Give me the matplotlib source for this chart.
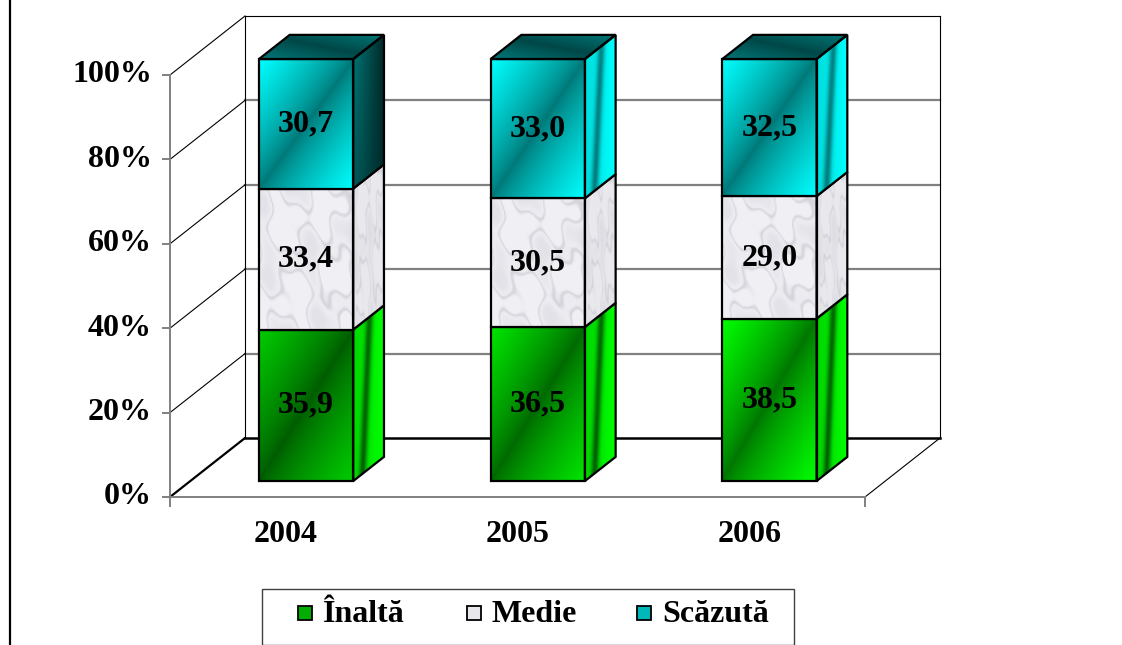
import numpy as np
import matplotlib.pyplot as plt
from matplotlib.patches import Polygon, Rectangle
from matplotlib.lines import Line2D

years = ["2004", "2005", "2006"]
series = ["Înaltă", "Medie", "Scăzută"]
inalta = [35.9, 36.5, 38.5]
medie = [33.4, 30.5, 29.0]
scazuta = [30.7, 33.0, 32.5]
yticks = [0, 20, 40, 60, 80, 100]

W, H = 1122, 645
SX = 695 / 3          # pixels per category
SY = 4.22             # pixels per percent
DX = 75 / SX          # depth offset of the back wall (data units)
DY = 59 / SY
D0, D1 = 0.27, 0.68   # bar depth span
BAR_W = 0.407
FONT = "Liberation Serif"
FS = 23

GREEN = [(0, 0.36, 0), (0, 1, 0)]
TEAL = [(0, 0.47, 0.47), (0, 1, 1)]


def P(x, y, d):
    return (x + d * DX, y + d * DY)


def mix(c0, c1, t):
    c0 = np.array(c0)[None, None, :]
    c1 = np.array(c1)[None, None, :]
    t = np.clip(t, 0, 1)[..., None]
    return c0 * (1 - t) + c1 * t


def front_grad(cols):
    return lambda u, v: mix(cols[0], cols[1], np.abs(u + v - 1) ** 0.8)


def side_grad(cols, bright):
    if not bright:
        return lambda u, v: mix((0, 0.08, 0.08), cols[0], 0.2 + 0.8 * (1 - u) * (1 - 0.4 * v))

    def f(u, v):
        streak = np.exp(-((u - 0.3 - 0.25 * (1 - v)) / 0.12) ** 2)
        return mix(cols[0], cols[1], 1 - 0.8 * streak - 0.25 * (1 - u))
    return f


def top_grad(cols):
    return lambda u, v: mix((0, 0.2, 0.2), cols[0], 0.3 + 0.7 * np.abs(u - v))


def marble(light):
    def f(u, v):
        m = (np.sin(9 * u + 4 * v + 1.3) * np.sin(8 * v - 5 * u + 0.7)
             + 0.6 * np.sin(19 * u - 13 * v + 2.1) * np.sin(11 * v + 7 * u))
        vein = np.exp(-(m / 0.12) ** 2)
        base = np.array((0.94, 0.94, 0.96)) if light else np.array((0.91, 0.91, 0.93))
        return mix(base, (0.74, 0.74, 0.77), 0.55 * vein + 0.25 * np.clip(m, 0, 1))
    return f


def face(ax, verts, fn, z, lw=1.6):
    poly = Polygon(verts, closed=True, facecolor="none", edgecolor="black",
                   lw=lw, zorder=z + 0.1, joinstyle="miter")
    ax.add_patch(poly)
    xs, ys = zip(*verts)
    n = 80
    u = np.linspace(0, 1, n)[None, :]
    v = np.linspace(0, 1, n)[:, None]
    img = fn(u * np.ones((n, n)), v * np.ones((n, n)))
    im = ax.imshow(img, extent=(min(xs), max(xs), min(ys), max(ys)), origin="upper",
                   aspect="auto", interpolation="bilinear", zorder=z)
    im.set_clip_path(poly)


fig = plt.figure(figsize=(W / 100, H / 100), dpi=100)
ax = fig.add_axes([0, 0, 1, 1])
ax.axis("off")

# walls and floor
x_l, x_r = -0.5, 2.5
for t in yticks:
    a, b = P(x_l, t, 1), P(x_r, t, 1)
    if t == 0:
        ax.plot([a[0], b[0]], [a[1], b[1]], color="black", lw=1.8, zorder=2)
    elif t == 100:
        ax.plot([a[0], b[0]], [a[1], b[1]], color="black", lw=0.8, zorder=2)
    else:
        ax.plot([a[0], b[0]], [a[1], b[1]], color="#808080", lw=1.6, zorder=2)
    c = P(x_l, t, 0)
    ax.plot([c[0], a[0]], [c[1], a[1]], color="black", lw=1.6 if t == 0 else 0.8, zorder=2)
    ax.plot([x_l - 0.03, x_l], [t, t], color="#808080", lw=1.4, zorder=2)
    ax.text(x_l - 0.078, t, f"{t}%", ha="right", va="center", family=FONT,
            weight="bold", fontsize=FS)

for x in (x_l, x_r):
    a, b = P(x, 0, 1), P(x, 100, 1)
    ax.plot([a[0], b[0]], [a[1], b[1]], color="black", lw=0.8, zorder=2)
a, b = P(x_r, 0, 0), P(x_r, 0, 1)
ax.plot([a[0], b[0]], [a[1], b[1]], color="black", lw=0.8, zorder=2)
ax.plot([x_l, x_r], [0, 0], color="#808080", lw=1.4, zorder=2)
ax.plot([x_l, x_l], [0, 100], color="#808080", lw=1.4, zorder=2)
for x in (x_l, x_r):
    ax.plot([x, x], [0, -2.2], color="#808080", lw=1.4, zorder=2)

# bars
for i, yr in enumerate(years):
    segs = [(inalta[i], "g"), (medie[i], "m"), (scazuta[i], "t")]
    x0, x1 = i - BAR_W / 2, i + BAR_W / 2
    base = 0
    for k, (val, kind) in enumerate(segs):
        y0, y1 = base, base + val
        z = 5 + k
        front = [P(x0, y0, D0), P(x1, y0, D0), P(x1, y1, D0), P(x0, y1, D0)]
        side = [P(x1, y0, D0), P(x1, y0, D1), P(x1, y1, D1), P(x1, y1, D0)]
        if kind == "g":
            cols = [(0, 0.36 + 0.05 * i, 0), (0, 0.8 + 0.1 * i, 0)]
            face(ax, front, front_grad(cols), z)
            face(ax, side, side_grad(GREEN, True), z)
        elif kind == "m":
            face(ax, front, marble(True), z)
            face(ax, side, marble(False), z)
        else:
            face(ax, front, front_grad(TEAL), z)
            face(ax, side, side_grad(TEAL, i > 0), z)
            top = [P(x0, y1, D0), P(x1, y1, D0), P(x1, y1, D1), P(x0, y1, D1)]
            face(ax, top, top_grad(TEAL), z)
        cx, cy = P(i, (y0 + y1) / 2, D0)
        ax.text(cx, cy, f"{val:.1f}".replace(".", ","), ha="center", va="center",
                family=FONT, weight="bold", fontsize=FS, zorder=20)
        base = y1
    ax.text(i, -9.0, yr, ha="center", va="center", family=FONT, weight="bold", fontsize=FS)

ax.set_xlim(x_l - 170 / SX, x_l + (W - 170) / SX)
ax.set_ylim(-(H - 497) / SY, 497 / SY)

fig.add_artist(Line2D([9.5 / W, 9.5 / W], [0, 1], color="black", lw=1.6))

# legend, drawn in figure pixels
leg_cols = [(0, 0.68, 0), (0.9, 0.9, 0.92), (0, 0.72, 0.72)]
leg_x = [298, 467, 637]
fig.add_artist(Rectangle((262 / W, 0), (794 - 262) / W, 1 - 589 / H, transform=fig.transFigure,
                         facecolor="white", edgecolor="#404040", lw=1.0))
for name, col, lx in zip(series, leg_cols, leg_x):
    fig.add_artist(Rectangle((lx / W, 1 - 620 / H), 14 / W, 14 / H, transform=fig.transFigure,
                             facecolor=col, edgecolor="black", lw=1.3))
    fig.text((lx + 25) / W, 1 - 614 / H, name, ha="left", va="center", family=FONT,
             weight="bold", fontsize=FS)

fig.savefig("out.png", dpi=100)
